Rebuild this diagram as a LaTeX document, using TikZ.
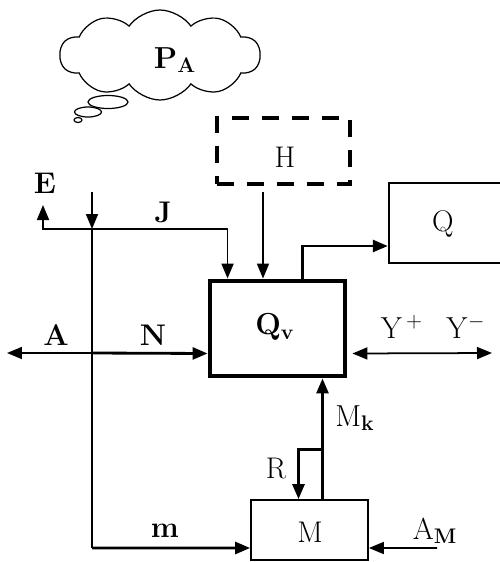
\documentclass[tikz,border=0pt]{standalone}
\usepackage{amsmath,amssymb}
\usepackage{tikz}
\usetikzlibrary{positioning,arrows.meta,shapes.symbols}
\usepackage{xcolor}

\tikzset{
  lbl/.style={font=\fontsize{17}{19}\selectfont},
  blk/.style={draw,line width=1pt,inner sep=0pt},
  flow/.style={line width=1pt},
  bigflow/.style={line width=1.6pt}
}

\begin{document}
\begin{tikzpicture}[x=0.02cm,y=-0.02cm,>={Triangle[length=3mm,width=2.4mm]}]
\useasboundingbox (0,0) rectangle (500,562);
% cloud and bubbles
\node (pa) [draw,cloud,cloud puffs=10,cloud puff arc=110,aspect=2.3,line width=0.7pt,
  minimum width=4cm,minimum height=1.8cm] at (160,55) {};
\node (palbl) [lbl] at (175,60) {$\mathbf{P_A}$};
\draw[line width=0.7pt] (108,102) ellipse (20 and 6.5);
\draw[line width=0.7pt] (88,112) ellipse (13.5 and 5);
\draw[line width=0.7pt] (78,120) ellipse (4 and 2.5);

% blocks
\node (H) [draw,line width=2.3pt,dash pattern=on 3.4mm off 2.6mm,minimum width=2.66cm,minimum height=1.32cm] at (283.5,151) {};
\node (Hlbl) [lbl] at (285,157) {H};
\node (Qv) [blk,line width=2.8pt,minimum width=2.7cm,minimum height=1.9cm] at (277.5,328.5) {};
\node (Qvlbl) [lbl] at (275,327) {$\mathbf{Q_v}$};
\node (Q) [blk,line width=1.4pt,minimum width=2.42cm,minimum height=1.6cm] at (449.5,223) {};
\node (Qlbl) [lbl] at (443,224) {Q};
\node (M) [blk,minimum width=2.34cm,minimum height=1.2cm] at (309.5,530) {};
\node (Mlbl) [lbl] at (310,532) {M};

% junctions on the main line
\coordinate (top) at (92,192);
\coordinate (jJ) at (92,229);
\coordinate (jN) at (92,353);
\coordinate (jm) at (92,548);
\coordinate (eTip) at (43,205);
\coordinate (aTip) at (7,353);
\coordinate (yTip) at (492,353);
\coordinate (amIn) at (437,548);
\coordinate (hOut) at (263,192);
\coordinate (mkOut) at ([xshift=0.26cm]M.north);

\draw[->,flow] (top) -- (jJ);
\draw[bigflow] (jJ) -- (jm);
\draw[->,flow] (jJ) -| (eTip);
\draw[->,flow] (jJ) -| ([xshift=0.4cm]Qv.north west);
\draw[->,flow] (hOut) -- (hOut |- Qv.north);
\draw[->,bigflow] ([xshift=0.5cm]Qv.north) |- ([yshift=-0.46cm]Q.west);
\draw[->,flow] (jN) -- (aTip);
\draw[->,bigflow] (jN) -- ([yshift=-0.5cm]Qv.west);
\draw[<->,flow] ([xshift=0.1cm,yshift=-0.5cm]Qv.east) -- (yTip);
\draw[->,bigflow] (mkOut) -- (mkOut |- Qv.south);
\draw[->,bigflow] ([yshift=1cm]mkOut) -| ([xshift=-0.22cm]M.north);
\draw[->,bigflow] (jm) -- ([yshift=-0.36cm]M.west);
\draw[->,flow] (amIn) -- ([yshift=-0.36cm]M.east);

% labels
\node (E) [lbl] at (45,183) {\textbf{E}};
\node (J) [lbl] at (163,212) {\textbf{J}};
\node (A) [lbl] at (56,335) {\textbf{A}};
\node (N) [lbl] at (153,335) {\textbf{N}};
\node (Yp) [lbl] at (402,327) {$\mathrm{Y}^{\,+}$};
\node (Ym) [lbl] at (466,327) {$\mathrm{Y}^{-}$};
\node (Mk) [lbl] at (355,418) {$\mathrm{M}_{\mathbf{k}}$};
\node (R) [lbl] at (276,469) {R};
\node (m) [lbl] at (165,531) {\textbf{m}};
\node (AM) [lbl] at (435,531) {$\mathrm{A}_{\mathbf{M}}$};
\end{tikzpicture}
\end{document}
